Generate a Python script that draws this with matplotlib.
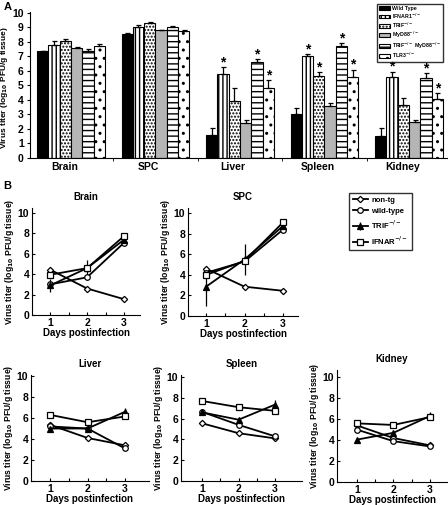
import matplotlib
matplotlib.use("Agg")
import matplotlib.pyplot as plt
import numpy as np

plt.rcParams['font.family'] = ['Liberation Sans', 'DejaVu Sans']
plt.rcParams['font.weight'] = 'bold'
plt.rcParams['mathtext.default'] = 'bf'
plt.rcParams['hatch.linewidth'] = 1.0

# ---------------- panel A data ----------------
tissues = ["Brain", "SPC", "Liver", "Spleen", "Kidney"]
strains = ["Wild Type", r"IFNAR1$^{-/-}$", r"TRIF$^{-/-}$", r"MyD88$^{-/-}$",
           r"TRIF$^{-/-}$ MyD88$^{-/-}$", r"TLR3$^{-/-}$"]

# one list per strain, values per tissue
wild_type = [7.35, 8.55, 1.6, 3.0, 1.5]
ifnar1 = [7.8, 9.0, 5.8, 7.0, 5.55]
trif = [8.05, 9.3, 3.9, 5.65, 3.65]
myd88 = [7.6, 8.8, 2.4, 3.6, 2.5]
trif_myd88 = [7.35, 9.0, 6.6, 7.7, 5.5]
tlr3 = [7.75, 8.75, 4.85, 5.6, 4.1]

wild_type_err = [0.05, 0.1, 0.5, 0.45, 0.55]
ifnar1_err = [0.25, 0.15, 0.45, 0.15, 0.4]
trif_err = [0.15, 0.05, 0.9, 0.25, 0.5]
myd88_err = [0.05, 0.05, 0.25, 0.2, 0.15]
trif_myd88_err = [0.15, 0.1, 0.2, 0.2, 0.35]
tlr3_err = [0.1, 0.05, 0.5, 0.5, 0.35]

# significance stars (strain index, tissue index)
stars = [(1, 2), (4, 2), (5, 2), (1, 3), (2, 3), (4, 3), (5, 3), (1, 4), (4, 4), (5, 4)]

# ---------------- panel B data ----------------
days = [1, 2, 3]
groups = ["non-tg", "wild-type", r"TRIF$^{-/-}$", r"IFNAR$^{-/-}$"]

brain_b = {"non-tg": [4.45, 2.6, 1.55], "wild-type": [3.0, 3.7, 7.1],
           "trif": [2.9, 4.6, 7.4], "ifnar": [3.95, 4.6, 7.75]}
spc_b = {"non-tg": [4.6, 2.85, 2.45], "wild-type": [4.2, 5.3, 8.4],
         "trif": [2.85, 5.5, 8.75], "ifnar": [4.0, 5.35, 9.1]}
liver_b = {"non-tg": [5.35, 4.1, 3.4], "wild-type": [5.2, 5.0, 3.1],
           "trif": [5.0, 5.0, 6.6], "ifnar": [6.3, 5.6, 6.15]}
spleen_b = {"non-tg": [5.55, 4.6, 4.1], "wild-type": [6.65, 5.4, 4.3],
            "trif": [6.6, 5.9, 7.35], "ifnar": [7.7, 7.1, 6.75]}
kidney_b = {"non-tg": [5.4, 4.2, 3.5], "wild-type": [5.0, 3.9, 3.4],
            "trif": [4.05, 4.7, 6.3], "ifnar": [5.6, 5.45, 6.2]}

trif_err_b = {"Brain": [0.6, 0.8, 0.2], "SPC": [1.9, 1.5, 0.2], "Liver": [0.2, 0.2, 0.4],
              "Spleen": [0.2, 0.2, 0.4], "Kidney": [0.1, 0.2, 0.35]}

W, H = 448, 505
fig = plt.figure(figsize=(W / 100, H / 100), dpi=100)


def px_axes(x0, x1, ytop, ybot):
    return fig.add_axes([x0 / W, 1 - ybot / H, (x1 - x0) / W, (ybot - ytop) / H])


ylab = r"Virus titer (log$_{10}$ PFU/g tissue)"

# ---------------- panel A ----------------
ax = px_axes(30, 447, 11.5, 158)
values = [wild_type, ifnar1, trif, myd88, trif_myd88, tlr3]
errors = [wild_type_err, ifnar1_err, trif_err, myd88_err, trif_myd88_err, tlr3_err]
styles = [dict(color="black", hatch=None),
          dict(color="white", hatch="||||"),
          dict(color="white", hatch="....."),
          dict(color="#b5b5b5", hatch=None),
          dict(color="white", hatch="---"),
          dict(color="white", hatch="..")]
x = np.arange(len(tissues))
bw = 0.134
handles = []
for i, (vals, errs, st) in enumerate(zip(values, errors, styles)):
    pos = x + (i - 2.5) * bw
    b = ax.bar(pos, vals, width=bw, color=st["color"], hatch=st["hatch"],
               edgecolor="black", linewidth=0.8, label=strains[i],
               yerr=[np.zeros(len(vals)), errs], capsize=1.8,
               error_kw=dict(elinewidth=0.9, capthick=0.9, ecolor="black"))
    handles.append(b)
for si, ti in stars:
    top = values[si][ti] + errors[si][ti]
    ax.text(x[ti] + (si - 2.5) * bw, top - 0.15, "*", ha="center", va="bottom",
            fontsize=10, fontweight="bold")

ax.set_xlim(-0.485, 4.45)
ax.set_ylim(0, 10.1)
ax.set_yticks(range(0, 11))
ax.set_xticks(x - 0.08)
ax.set_xticklabels(tissues, fontsize=7.5, fontweight="bold")
ax.set_xticks([0.5, 1.5, 2.5, 3.5], minor=True)
ax.tick_params(axis="x", which="major", length=0, pad=3)
ax.tick_params(axis="x", which="minor", length=2, direction="out")
ax.tick_params(axis="y", labelsize=7.5, length=2.5, width=0.8, pad=2)
for lab in ax.get_yticklabels():
    lab.set_fontweight("bold")
ax.spines["top"].set_visible(False)
ax.spines["right"].set_visible(False)
ax.set_ylabel(ylab, fontsize=6.0, fontweight="bold")
ax.yaxis.set_label_coords(-0.049, 0.48)
leg = ax.legend(handles=handles, loc="upper right", bbox_to_anchor=(443 / W, 1 - 4 / H),
                bbox_transform=fig.transFigure, fontsize=3.8, frameon=True, fancybox=False,
                edgecolor="black", handlelength=2.0, handleheight=0.7, labelspacing=0.02,
                borderpad=0.4, handletextpad=0.3, borderaxespad=0)
leg.get_frame().set_linewidth(1.0)
fig.text(4 / W, 1 - 7 / H, "A", fontsize=8, fontweight="bold", va="center")

# ---------------- panel B ----------------
markers = {"non-tg": dict(marker="D", mfc="white", ms=3.2),
           "wild-type": dict(marker="o", mfc="white", ms=4),
           "trif": dict(marker="^", mfc="black", ms=4.2),
           "ifnar": dict(marker="s", mfc="white", ms=4.2)}
keys = ["non-tg", "wild-type", "trif", "ifnar"]

panels = [("Brain", brain_b, (32, 140, 208, 315), (0.51, 3.43), 10.5),
          ("SPC", spc_b, (188, 298, 208, 316), (0.53, 3.39), 10.5),
          ("Liver", liver_b, (31, 149, 375, 481), (0.49, 3.64), 10.1),
          ("Spleen", spleen_b, (181, 302, 375, 481), (0.42, 3.74), 10.2),
          ("Kidney", kidney_b, (337, 447, 370, 482), (0.45, 3.47), 10.7)]

line_handles = []
for name, data, (x0, x1, yt, yb), xl, ytop in panels:
    bx = px_axes(x0, x1, yt, yb)
    for k, lab in zip(keys, groups):
        yerr = trif_err_b[name] if k == "trif" else None
        h = bx.errorbar(days, data[k], yerr=yerr, color="black", lw=1.3,
                        mec="black", mew=0.9, capsize=0, elinewidth=0.9, label=lab,
                        **markers[k])
        if name == "Brain":
            line_handles.append(h)
    bx.set_xlim(*xl)
    bx.set_ylim(0, ytop)
    bx.set_xticks(days)
    bx.set_yticks([0, 2, 4, 6, 8, 10])
    bx.set_xticks([1.5, 2.5], minor=True)
    bx.tick_params(which="both", direction="in", length=2, width=0.8, labelsize=7.5, pad=2)
    for lab in bx.get_xticklabels() + bx.get_yticklabels():
        lab.set_fontweight("bold")
    bx.spines["top"].set_visible(False)
    bx.spines["right"].set_visible(False)
    bx.set_title(name, fontsize=7, fontweight="bold", pad=6)
    bx.set_xlabel("Days postinfection", fontsize=7, fontweight="bold", labelpad=0)
    bx.set_ylabel(ylab, fontsize=6.2, fontweight="bold", labelpad=1)

legb = fig.legend(handles=line_handles, loc="upper left", bbox_to_anchor=(349 / W, 1 - 193 / H),
                  fontsize=5.5, frameon=True, fancybox=False, edgecolor="black",
                  handlelength=2.0, labelspacing=0.45, borderpad=0.5, handletextpad=0.4,
                  borderaxespad=0)
legb.get_frame().set_linewidth(1.0)
fig.text(3 / W, 1 - 186 / H, "B", fontsize=8, fontweight="bold", va="center")

fig.savefig("out.png", dpi=100)
